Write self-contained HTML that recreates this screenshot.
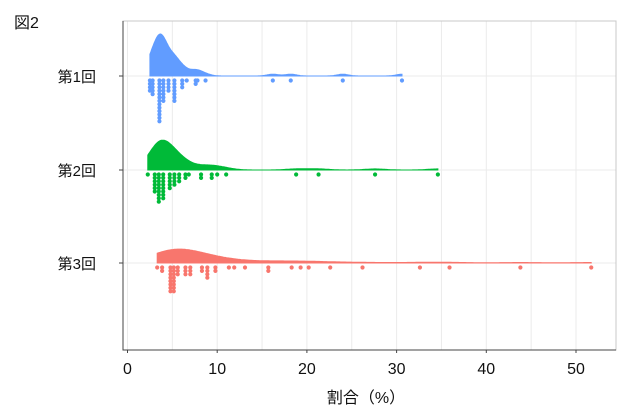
<!DOCTYPE html>
<html><head><meta charset="utf-8"><style>
html,body{margin:0;padding:0;background:#fff;}
svg{display:block;font-family:"Liberation Sans","Noto Sans CJK JP",sans-serif;}
</style></head><body>
<svg id="c" width="644" height="417" viewBox="0 0 644 417">
<text x="14" y="28" font-size="16" fill="#111">図2</text>
<g id="grid"></g>
<g id="marks"></g>
<g id="axes"></g>
<text x="366" y="403" font-size="16" text-anchor="middle" fill="#111">割合（%）</text>
</svg>
<script>
const groups = ["第1回","第2回","第3回"];
const colors = ["#619CFF","#00BA38","#F8766D"];
const g1Values = [2.5,2.8,3.56,4.0,4.57,5.23,6.1,6.6,7.6,7.8,8.7,16.2,18.2,24.0,30.6];
const g1Counts = [4,5,13,7,4,7,3,1,2,1,1,1,1,1,1];
const g2Values = [2.26,3.04,3.49,3.98,4.71,5.23,5.76,6.46,6.83,8.2,9.39,10.0,11.0,18.8,21.3,27.6,34.6];
const g2Counts = [1,6,9,8,5,4,3,2,1,2,2,1,1,1,1,1,1];
const g3Values = [3.31,3.86,4.79,5.16,5.6,6.46,7.0,8.3,8.9,9.8,11.3,11.9,13.1,15.7,18.3,19.3,20.2,22.6,26.2,32.6,35.9,43.8,51.7];
const g3Counts = [1,2,8,8,3,3,3,2,4,2,1,1,1,2,1,1,1,1,1,1,1,1,1];
const xTicks = [0,10,20,30,40,50];
const values=[g1Values,g2Values,g3Values], counts=[g1Counts,g2Counts,g3Counts];
const NS="http://www.w3.org/2000/svg";
const L=123,R=616,T=21,B=350;
const xs=v=>127.5+v*8.97;
const baseY=[76,170,263];
function mk(tag,at,parent){const e=document.createElementNS(NS,tag);for(const k in at)e.setAttribute(k,at[k]);parent.appendChild(e);return e;}
const grid=document.getElementById('grid'),marks=document.getElementById('marks'),axes=document.getElementById('axes');
for(let v=0;v<=54;v+=5){const x=xs(v);if(x>R)break;
 const l=mk('line',{x1:x,x2:x,y1:T,y2:B,stroke:'#ebebeb','stroke-width':1},grid);
 
 }
baseY.forEach(y=>{const l=mk('line',{x1:L,x2:R,y1:y,y2:y,stroke:'#ebebeb','stroke-width':1},grid);
 
 });
function expand(vs,cs){const a=[];vs.forEach((v,i)=>{for(let k=0;k<cs[i];k++)a.push(v);});return a.sort((p,q)=>p-q);}
function q(a,p){const h=(a.length-1)*p,lo=Math.floor(h);return a[lo]+(a[Math.min(lo+1,a.length-1)]-a[lo])*(h-lo);}
const dens=[];let maxD=0;
for(let g=0;g<3;g++){const a=expand(values[g],counts[g]);const n=a.length;
 const m=a.reduce((s,v)=>s+v,0)/n;const sd=Math.sqrt(a.reduce((s,v)=>s+(v-m)*(v-m),0)/(n-1));
 const iqr=(q(a,0.75)-q(a,0.25))/1.34;const bw=1.25*0.9*Math.min(sd,iqr)*Math.pow(n,-0.2);
 const lo=a[0],hi=a[n-1];const pts=[];
 for(let i=0;i<=300;i++){const x=lo+(hi-lo)*i/300;let d=0;for(const v of a){const z=(x-v)/bw;d+=Math.exp(-z*z/2);}d/=n*bw*Math.sqrt(2*Math.PI);pts.push([x,d]);if(d>maxD)maxD=d;}
 dens.push(pts);}
for(let g=0;g<3;g++){const y0=baseY[g];const sc=42/maxD;
 let d=`M${xs(dens[g][0][0])},${y0}`;dens[g].forEach(p=>{d+=`L${xs(p[0]).toFixed(1)},${(y0-p[1]*sc).toFixed(1)}`;});
 d+=`L${xs(dens[g][dens[g].length-1][0])},${y0}Z`;
 const p=mk('path',{d:d,fill:colors[g],stroke:colors[g],'stroke-width':1},marks);
 
 
 values[g].forEach((v,i)=>{for(let k=0;k<counts[g][i];k++){
  const c=mk('circle',{cx:xs(v),cy:y0+4.5+k*3.4,r:2.1,fill:colors[g]},marks);
  
  }});
}
const fr=mk('rect',{x:L,y:T,width:R-L,height:B-T,fill:'none',stroke:'#c8c8c8','stroke-width':1},axes);


const la=mk('path',{d:`M${L},${T}V${B}H${R}`,fill:'none',stroke:'#444','stroke-width':1},axes);


xTicks.forEach(v=>{const x=xs(v);
 mk('line',{x1:x,x2:x,y1:B,y2:B+3,stroke:'#444'},axes);
 const t=mk('text',{x:x,y:374,'font-size':16,'text-anchor':'middle',fill:'#111'},axes);t.textContent=v;
 
 });
groups.forEach((g,i)=>{const y=baseY[i];
 mk('line',{x1:L-4,x2:L,y1:y,y2:y,stroke:'#444'},axes);
 const t=mk('text',{x:96,y:y+6,'font-size':15,'text-anchor':'end',fill:'#111'},axes);t.textContent=g;
 
 });
</script>
</body></html>
